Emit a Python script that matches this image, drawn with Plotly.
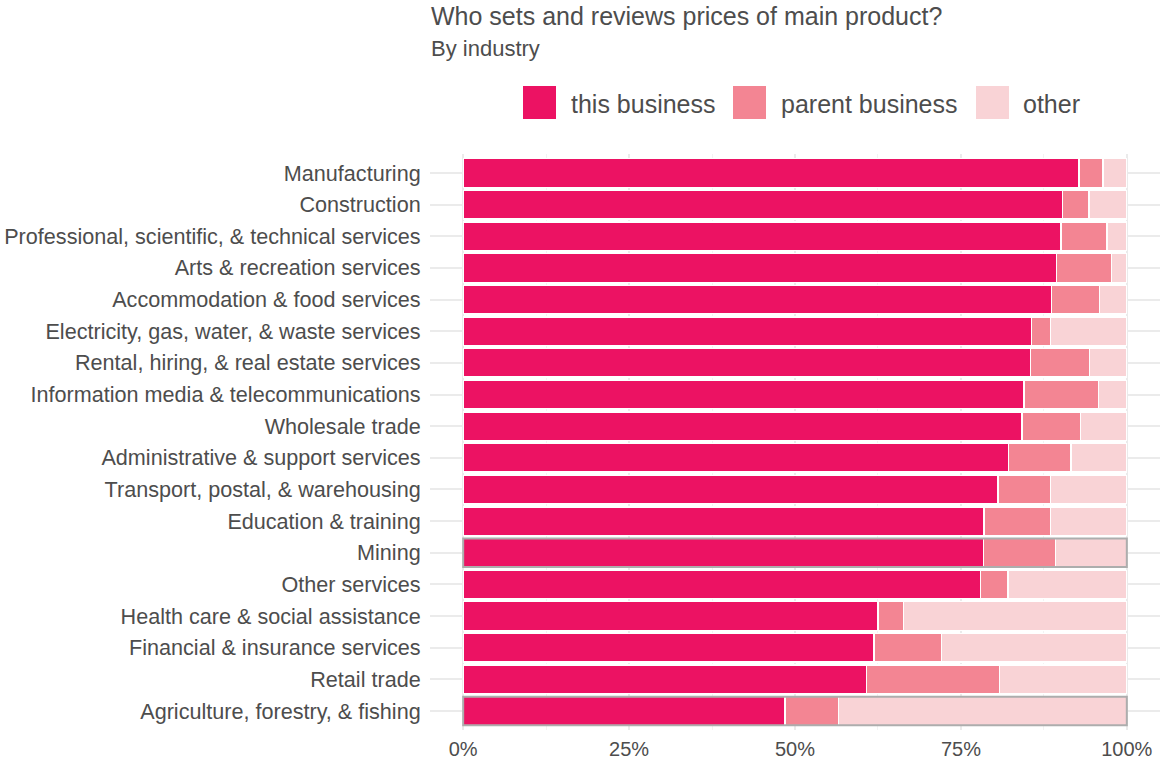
import plotly.graph_objects as go

# Industries, top to bottom
industries = [
    "Manufacturing",
    "Construction",
    "Professional, scientific, & technical services",
    "Arts & recreation services",
    "Accommodation & food services",
    "Electricity, gas, water, & waste services",
    "Rental, hiring, & real estate services",
    "Information media & telecommunications",
    "Wholesale trade",
    "Administrative & support services",
    "Transport, postal, & warehousing",
    "Education & training",
    "Mining",
    "Other services",
    "Health care & social assistance",
    "Financial & insurance services",
    "Retail trade",
    "Agriculture, forestry, & fishing",
]

# Share of businesses (%) by who sets and reviews prices
this_business = [92.8, 90.3, 90.1, 89.4, 88.6, 85.6, 85.5, 84.5, 84.2, 82.2, 80.6, 78.5, 78.4, 78.0, 62.5, 61.9, 60.8, 48.5]
parent_business = [3.6, 4.0, 6.9, 8.3, 7.3, 2.9, 8.9, 11.2, 8.8, 9.4, 7.9, 10.0, 10.9, 4.1, 3.9, 10.2, 20.0, 8.1]
other = [round(100 - a - b, 1) for a, b in zip(this_business, parent_business)]

series_names = ["this business", "parent business", "other"]
series_values = [this_business, parent_business, other]
series_colors = ["#EC1263", "#F38593", "#F9D3D6"]

x_ticks = [0, 25, 50, 75, 100]
x_tick_labels = ["0%", "25%", "50%", "75%", "100%"]

highlighted = ["Mining", "Agriculture, forestry, & fishing"]

TEXT = "#4D4D4D"
FONT = "Liberation Sans, Arial, sans-serif"

fig = go.Figure()
for name, vals, col in zip(series_names, series_values, series_colors):
    fig.add_trace(go.Bar(
        y=industries, x=vals, name=name, orientation="h",
        marker=dict(color=col, line=dict(color="white", width=1.3)),
        showlegend=False,
    ))

# Grey outline around highlighted industries
for ind in highlighted:
    i = industries.index(ind)
    fig.add_shape(type="rect", xref="x", yref="y",
                  x0=0, x1=100, y0=i - 0.45, y1=i + 0.45,
                  line=dict(color="#ADADAD", width=2), fillcolor="rgba(0,0,0,0)")

# Legend drawn as swatches + labels above the panel
W, H = 1161, 760
ML, MR, MT, MB = 430, 1, 154, 30
pw, ph = W - ML - MR, H - MT - MB

def px(x):
    return (x - ML) / pw

def py(y):
    return (H - MB - y) / ph

legend_swatch_x = [523, 733, 976]
legend_text_x = [569, 779, 1021]
legend_top, legend_bottom = 86, 119
for name, col, sx, tx in zip(series_names, series_colors, legend_swatch_x, legend_text_x):
    fig.add_shape(type="rect", xref="paper", yref="paper",
                  x0=px(sx), x1=px(sx + 33), y0=py(legend_bottom), y1=py(legend_top),
                  line=dict(width=0), fillcolor=col)
    fig.add_annotation(xref="paper", yref="paper", x=px(tx), y=py(104),
                       xanchor="left", yanchor="middle", text=name, showarrow=False,
                       font=dict(size=25, color=TEXT, family=FONT))

fig.add_annotation(xref="paper", yref="paper", x=px(429), y=py(16),
                   xanchor="left", yanchor="middle", showarrow=False,
                   text="Who sets and reviews prices of main product?",
                   font=dict(size=25, color=TEXT, family=FONT))
fig.add_annotation(xref="paper", yref="paper", x=px(429), y=py(48),
                   xanchor="left", yanchor="middle", showarrow=False,
                   text="By industry",
                   font=dict(size=22, color=TEXT, family=FONT))

fig.update_layout(
    width=W, height=H,
    margin=dict(l=ML, r=MR, t=MT, b=MB, autoexpand=False),
    barmode="stack", bargap=0.1,
    plot_bgcolor="white", paper_bgcolor="white",
    font=dict(family=FONT, color=TEXT),
    xaxis=dict(
        range=[-5, 105], tickvals=x_ticks, ticktext=x_tick_labels,
        showgrid=True, gridcolor="#EBEBEB", gridwidth=1.6, zeroline=False,
        showline=False, tickfont=dict(size=20, color=TEXT),
        ticks="outside", ticklen=1, tickcolor="rgba(0,0,0,0)",
        minor=dict(dtick=12.5, tick0=0, showgrid=True, gridcolor="#F3F3F3", gridwidth=1),
    ),
    yaxis=dict(
        range=[17.6, -0.6], showgrid=True, gridcolor="#EBEBEB", gridwidth=1.6,
        zeroline=False, showline=False, tickfont=dict(size=21.6, color=TEXT),
        ticks="outside", ticklen=4, tickcolor="rgba(0,0,0,0)",
    ),
)

fig.write_html("out.html")
